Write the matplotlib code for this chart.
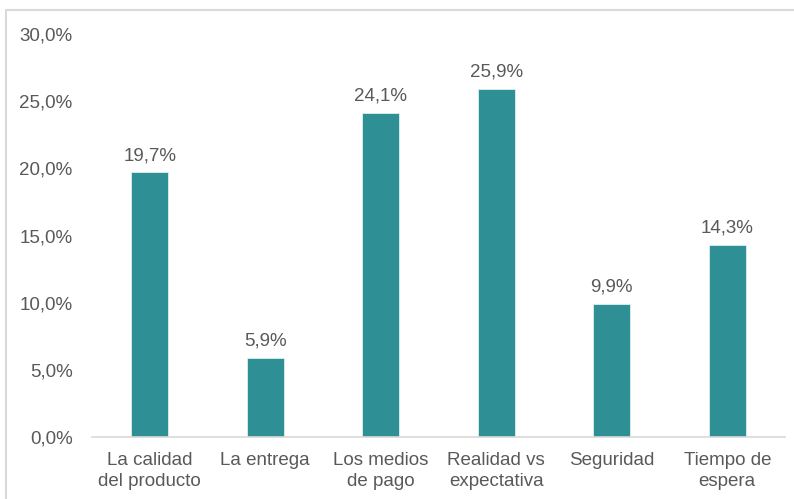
import matplotlib.pyplot as plt
from matplotlib.patches import Rectangle

# Motivos de insatisfacción y su porcentaje
categorias = ["La calidad\ndel producto", "La entrega", "Los medios\nde pago",
              "Realidad vs\nexpectativa", "Seguridad", "Tiempo de\nespera"]
porcentajes = [19.7, 5.9, 24.1, 25.9, 9.9, 14.3]
ticks_y = [0, 5, 10, 15, 20, 25, 30]

color_barra = "#2e8f95"
color_texto = "#595959"

plt.rcParams["font.family"] = ["Liberation Sans", "DejaVu Sans"]

fig = plt.figure(figsize=(7.94, 4.99), dpi=100)
ax = fig.add_axes([0.1159, 0.1242, 0.8728, 0.8077])

# Marco gris del gráfico
fig.patches.append(Rectangle((6 / 794, -0.1), 1.2, (499 - 10) / 499 + 0.1,
                             transform=fig.transFigure, fill=False,
                             edgecolor="#d9d9d9", linewidth=1.5))

x = range(len(categorias))
barras = ax.bar(x, porcentajes, width=0.32, color=color_barra,
                edgecolor="#dff0f0", linewidth=0.6)

for xi, v in zip(x, porcentajes):
    ax.annotate(f"{v:.1f}%".replace(".", ","), (xi, v), xytext=(0, 6),
                textcoords="offset points", ha="center", va="bottom",
                fontsize=13.5, color=color_texto)

ax.set_xlim(-0.5, len(categorias) - 0.5)
ax.set_ylim(0, 30)
ax.set_yticks(ticks_y)
ax.set_yticklabels([f"{t:.1f}%".replace(".", ",") for t in ticks_y])
ax.set_xticks(list(x))
ax.set_xticklabels(categorias, linespacing=1.25)

ax.tick_params(axis="both", length=0, labelsize=13.5, colors=color_texto)
ax.tick_params(axis="y", pad=14)
ax.tick_params(axis="x", pad=11)
for lado in ["top", "right", "left"]:
    ax.spines[lado].set_visible(False)
ax.spines["bottom"].set_color("#d9d9d9")
ax.spines["bottom"].set_linewidth(1.2)

fig.savefig("out.png", dpi=100)
